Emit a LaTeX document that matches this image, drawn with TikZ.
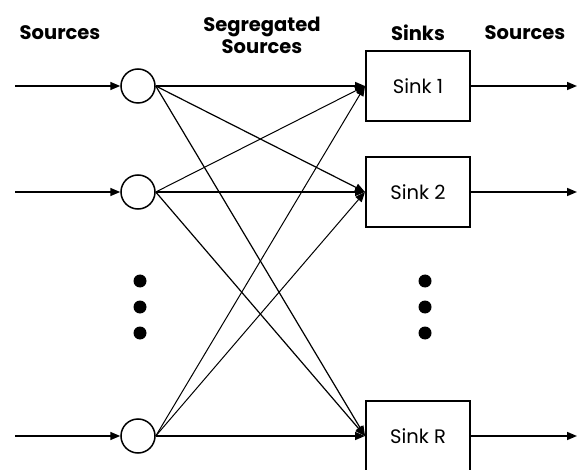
\documentclass[tikz,border=0pt]{standalone}
\usepackage{fontspec}
\setmainfont{Poppins}
\usepackage{tikz}
\usetikzlibrary{arrows.meta,shapes,positioning}

\begin{document}
\begin{tikzpicture}[x=1pt, y=1pt, every node/.style={font=\fontsize{19.5}{22}\selectfont},
  >={Triangle[length=10pt,width=8pt]}]
\useasboundingbox (0,0) rectangle (578,469);

% headings
\node (hsrc) [font=\fontsize{19.5}{22}\selectfont\bfseries] at (60,436) {Sources};
\node (hseg) [font=\fontsize{19.5}{22}\selectfont\bfseries, align=center] at (262,434) {Segregated\\Sources};
\node (hsink) [font=\fontsize{19.5}{22}\selectfont\bfseries] at (418,436) {Sinks};
\node (hout) [font=\fontsize{19.5}{22}\selectfont\bfseries] at (525,436) {Sources};

% segregated sources
\node (seg1) [draw, circle, line width=1.5pt, minimum size=34pt, inner sep=0pt] at (138,383) {};
\node (seg2) [draw, circle, line width=1.5pt, minimum size=34pt, inner sep=0pt] at (138,277) {};
\node (segR) [draw, circle, line width=1.5pt, minimum size=34pt, inner sep=0pt] at (138,33) {};

% sinks
\node (sink1) [draw, line width=2pt, minimum width=104pt, minimum height=70pt] at (418,383) {Sink 1};
\node (sink2) [draw, line width=2pt, minimum width=104pt, minimum height=70pt] at (418,277) {Sink 2};
\node (sinkR) [draw, line width=2pt, minimum width=104pt, minimum height=70pt] at (418,33) {Sink R};

% dots
\node (dl1) [fill, circle, minimum size=13pt, inner sep=0pt] at (140,188) {};
\node (dl2) [fill, circle, minimum size=13pt, inner sep=0pt] at (140,162) {};
\node (dl3) [fill, circle, minimum size=13pt, inner sep=0pt] at (140,136) {};
\node (dr1) [fill, circle, minimum size=13pt, inner sep=0pt] at (425,188) {};
\node (dr2) [fill, circle, minimum size=13pt, inner sep=0pt] at (425,162) {};
\node (dr3) [fill, circle, minimum size=13pt, inner sep=0pt] at (425,136) {};

% free ends
\coordinate (in1) at (15,383);
\coordinate (in2) at (15,277);
\coordinate (inR) at (15,33);
\coordinate (out1) at (577,383);
\coordinate (out2) at (577,277);
\coordinate (outR) at (577,33);

\draw[->, line width=1.5pt] (in1) -- (seg1);
\draw[->, line width=1.5pt] (in2) -- (seg2);
\draw[->, line width=1.5pt] (inR) -- (segR);

\draw[->, line width=1.5pt] (seg1.east) -- (sink1.west);
\draw[->, line width=1.5pt] (seg2.east) -- (sink2.west);
\draw[->, line width=1.5pt] (segR.east) -- (sinkR.west);

\draw[->, line width=1.2pt] (seg1.east) -- (sink2.west);
\draw[->, line width=1.2pt] (seg1.east) -- (sinkR.west);
\draw[->, line width=1pt] (seg2.east) -- (sink1.west);
\draw[->, line width=1.2pt] (seg2.east) -- (sinkR.west);
\draw[->, line width=1pt] (segR.east) -- (sink1.west);
\draw[->, line width=1pt] (segR.east) -- (sink2.west);

\draw[->, line width=1.5pt] (sink1) -- (out1);
\draw[->, line width=1.5pt] (sink2) -- (out2);
\draw[->, line width=1.5pt] (sinkR) -- (outR);
\end{tikzpicture}
\end{document}
